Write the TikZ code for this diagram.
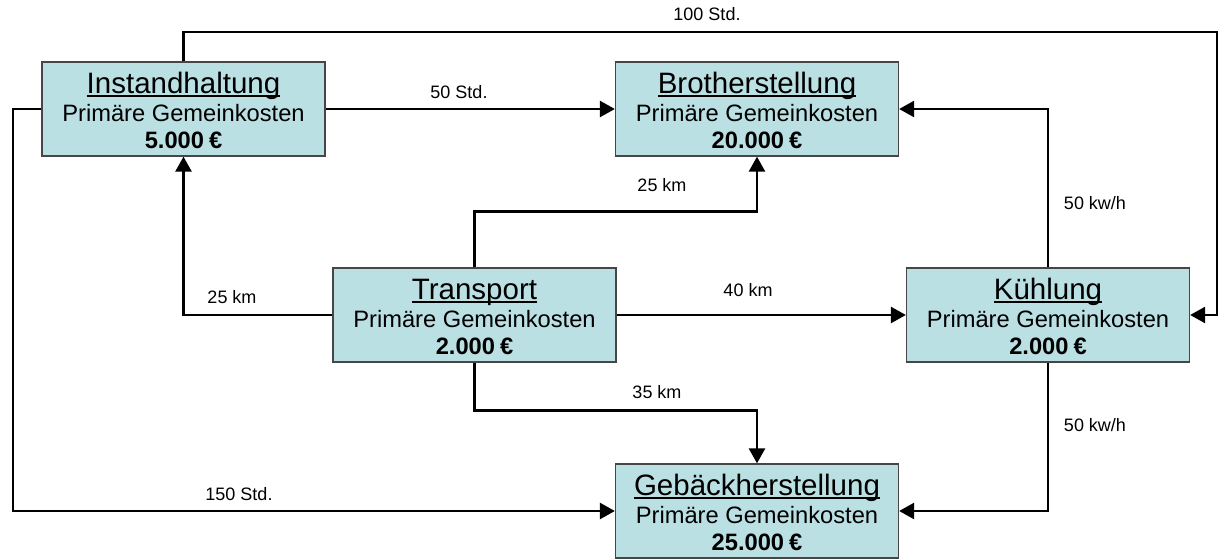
\documentclass[tikz,border=0pt]{standalone}
\usepackage{fontspec}
\setmainfont{Liberation Sans}
\usetikzlibrary{arrows.meta}
\definecolor{boxfill}{RGB}{187,224,227}
\definecolor{boxline}{RGB}{70,70,70}
\newcommand\myul[1]{\setbox0=\hbox{#1}\rlap{\rule[-3.5pt]{\wd0}{1.6pt}}\box0}
\tikzset{
  dbox/.style={draw=boxline, line width=1.3pt, fill=boxfill, minimum width=283pt, minimum height=94pt, inner sep=0pt},
  conn/.style={line width=2.6pt, line join=miter},
  arr/.style={conn, -{Triangle[length=15pt,width=16pt]}},
  lbl/.style={font=\fontsize{18}{20}\selectfont, inner sep=0pt},
  ttl/.style={font=\fontsize{29.5}{30}\selectfont, anchor=base, inner sep=0pt},
  bdy/.style={font=\fontsize{23.7}{25}\selectfont, anchor=base, inner sep=0pt},
  val/.style={font=\fontsize{23.7}{25}\selectfont\bfseries, anchor=base, inner sep=0pt},
}
\newcommand\dept[5]{%
  \node[dbox] (#1) at (#2,#3) {};
  \node[ttl] (#1-ttl) at ([yshift=-32pt]#1.north) {\myul{#4}};
  \node[bdy] (#1-bdy) at ([yshift=-60pt]#1.north) {Primäre Gemeinkosten};
  \node[val] (#1-val) at ([yshift=-87pt]#1.north) {#5\kern5pt€};
}
\begin{document}
\begin{tikzpicture}[x=1pt,y=-1pt]
\useasboundingbox (0,0) rectangle (1219,559);
% departments
\dept{ih}{183.5}{109}{Instandhaltung}{5.000}
\dept{brot}{757}{109}{Brotherstellung}{20.000}
\dept{trans}{474.5}{315}{Transport}{2.000}
\dept{kue}{1048}{315}{Kühlung}{2.000}
\dept{geb}{757}{511}{Gebäckherstellung}{25.000}
% corner coordinates
\coordinate (topright) at (1217,32);
\coordinate (leftdown) at (13,300);
% connectors
\draw[arr] (ih.north) |- (topright) |- (kue.east);
\draw[arr] (ih.east) -- (brot.west);
\draw[arr] (ih.west) -| (leftdown) |- (geb.west);
\draw[arr] (trans.west) -| (ih.south);
\draw[arr] (trans.north) -- ++(0,-56) -| (brot.south);
\draw[arr] (trans.east) -- (kue.west);
\draw[arr] (trans.south) -- ++(0,48) -| (geb.north);
\draw[arr] (kue.north) |- (brot.east);
\draw[arr] (kue.south) |- (geb.east);
% labels
\node[lbl] (l100) at (707,14) {100 Std.};
\node[lbl] (l50) at (459,92) {50 Std.};
\node[lbl] (l150) at (239,494) {150 Std.};
\node[lbl] (l25a) at (232,297) {25 km};
\node[lbl] (l25b) at (662,185) {25 km};
\node[lbl] (l40) at (748,290) {40 km};
\node[lbl] (l35) at (657,392) {35 km};
\node[lbl] (lkw1) at (1095,203) {50 kw/h};
\node[lbl] (lkw2) at (1095,425) {50 kw/h};
\end{tikzpicture}
\end{document}
